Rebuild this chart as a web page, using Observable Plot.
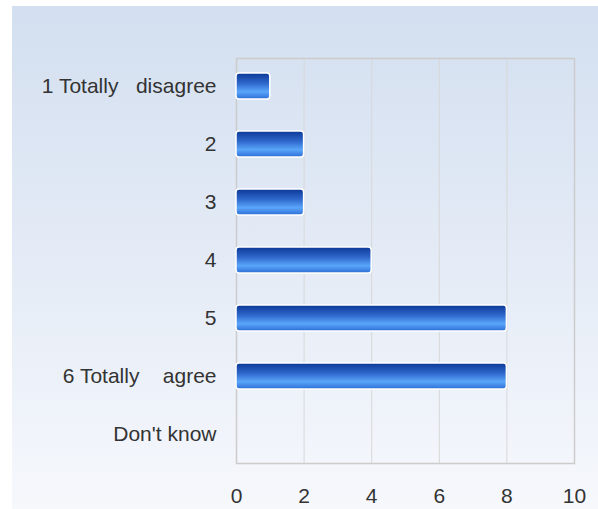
<!DOCTYPE html>
<html>
<head>
<meta charset="utf-8">
<script src="https://cdn.jsdelivr.net/npm/d3@7"></script>
<script src="https://cdn.jsdelivr.net/npm/@observablehq/plot@0.6"></script>
<style>
  html, body { margin: 0; padding: 0; background: #fff; }
  #wrap { position: relative; width: 598px; height: 509px; overflow: hidden; }
  #bg { position: absolute; left: 12px; top: 6px; right: 0; bottom: 0;
        background: linear-gradient(to bottom, #d3dff0 0%, #e4ebf6 50%, #f6f8fc 100%); }
  #chart { position: absolute; left: 0; top: 0; }
  #chart svg { background: transparent; }
</style>
</head>
<body>
<div id="wrap"><div id="bg"></div><div id="chart"></div></div>
<script>
const categories = ["1 Totally   disagree", "2", "3", "4", "5", "6 Totally    agree", "Don't know"];
const values = [1, 2, 2, 4, 8, 8, 0];
const xTicks = [0, 2, 4, 6, 8, 10];

const data = categories.map((c, i) => ({category: c, value: values[i]}));

const chart = Plot.plot({
  width: 598,
  height: 509,
  marginLeft: 236,
  marginRight: 24,
  marginTop: 58,
  marginBottom: 46,
  style: {fontFamily: "Liberation Sans, Arial, sans-serif", fontSize: "21px", color: "#333", background: "transparent"},
  x: {domain: [0, 10], ticks: xTicks, label: null},
  y: {domain: categories, paddingInner: 0.55, paddingOuter: 0.24, label: null},
  marks: [
    Plot.gridX(xTicks, {stroke: "#d8d8d8", strokeOpacity: 1, strokeWidth: 1}),
    Plot.frame({stroke: "#cccccc", strokeWidth: 1.5}),
    Plot.barX(data, {y: "category", x: "value", fill: "url(#barGrad)", stroke: "white", strokeWidth: 1.5, rx: 3}),
    Plot.axisX({ticks: xTicks, tickSize: 0, tickPadding: 25, fill: "#333", fontSize: 21, label: null}),
    Plot.axisY({tickSize: 0, tickPadding: 20, fill: "#333", fontSize: 21, label: null})
  ]
});

const ns = "http://www.w3.org/2000/svg";
const defs = document.createElementNS(ns, "defs");
defs.innerHTML = `<linearGradient id="barGrad" x1="0" y1="0" x2="0" y2="1">
  <stop offset="0%" stop-color="#0b3896"/>
  <stop offset="40%" stop-color="#2f68cc"/>
  <stop offset="72%" stop-color="#5aa6fa"/>
  <stop offset="100%" stop-color="#2d6dd6"/>
</linearGradient>`;
chart.insertBefore(defs, chart.firstChild);
chart.querySelectorAll("text").forEach(t => { t.setAttribute("xml:space", "preserve"); t.style.whiteSpace = "pre"; });
document.getElementById("chart").appendChild(chart);
</script>
</body>
</html>
